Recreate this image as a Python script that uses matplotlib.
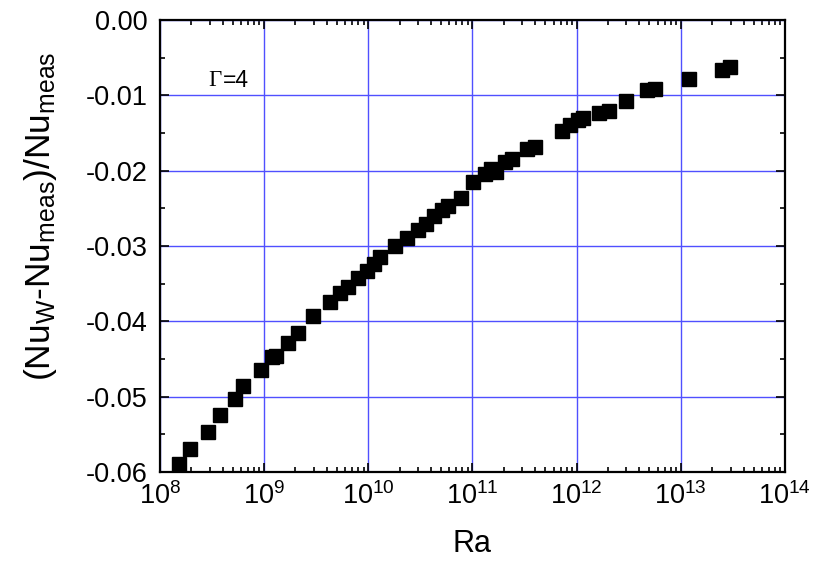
#!/usr/bin/env python3
"""
Wall correction plot
--------------------
Relative deviation of the wall-corrected Nusselt number from the measured one,
plotted against Rayleigh number for the Gamma=4 cell.
"""

import matplotlib
matplotlib.use('Agg')
import matplotlib.pyplot as plt
from matplotlib.ticker import LogLocator, MultipleLocator, NullFormatter, FormatStrFormatter

# Rayleigh numbers of the runs
ra = [
    1.53e8, 1.93e8, 2.91e8, 3.77e8, 5.21e8, 6.27e8, 9.38e8,
    1.19e9, 1.31e9, 1.69e9, 2.10e9, 2.92e9, 4.29e9, 5.31e9, 6.38e9, 7.96e9, 9.64e9,
    1.14e10, 1.29e10, 1.80e10, 2.37e10, 3.00e10, 3.58e10, 4.30e10, 5.13e10, 5.86e10, 7.80e10,
    1.02e11, 1.32e11, 1.51e11, 1.68e11, 2.05e11, 2.39e11, 3.31e11, 3.98e11, 7.18e11, 8.63e11,
    1.04e12, 1.16e12, 1.65e12, 2.04e12, 2.97e12, 4.70e12, 5.65e12,
    1.20e13, 2.47e13, 2.96e13,
]

# (Nu_W - Nu_meas) / Nu_meas for each run
rel_dev = [
    -0.0590, -0.0569, -0.0547, -0.0524, -0.0503, -0.0486, -0.0465,
    -0.0448, -0.0446, -0.0429, -0.0415, -0.0393, -0.0374, -0.0363, -0.0355, -0.0342, -0.0333,
    -0.0324, -0.0315, -0.0300, -0.0290, -0.0279, -0.0271, -0.0260, -0.0252, -0.0247, -0.0236,
    -0.02155, -0.0205, -0.0198, -0.0202, -0.0189, -0.0185, -0.0171, -0.0168, -0.0148, -0.0139,
    -0.0133, -0.0130, -0.0123, -0.0121, -0.0107, -0.0093, -0.0091,
    -0.0079, -0.0066, -0.0063,
]

x_limits = (1e8, 1e14)
y_limits = (-0.06, 0.0)

plt.rcParams['font.family'] = ['Liberation Sans', 'DejaVu Sans']
plt.rcParams['mathtext.fontset'] = 'custom'
plt.rcParams['mathtext.rm'] = 'Liberation Sans'
plt.rcParams['mathtext.it'] = 'Liberation Sans:italic'
plt.rcParams['mathtext.bf'] = 'Liberation Sans:bold'


def make_plot(output_file='out.png'):
    fig = plt.figure(figsize=(8.16, 5.71), dpi=100)
    ax = fig.add_axes([0.196, 0.1734, 0.766, 0.7916])

    ax.plot(ra, rel_dev, linestyle='none', marker='s', markersize=9.5,
            color='black', zorder=3)

    ax.set_xscale('log')
    ax.set_xlim(*x_limits)
    ax.set_ylim(*y_limits)

    # blue grid at the major ticks
    ax.grid(True, which='major', color='#5050ff', linewidth=1.0)
    ax.set_axisbelow(True)

    ax.xaxis.set_major_locator(LogLocator(base=10, numticks=10))
    ax.xaxis.set_minor_locator(LogLocator(base=10, subs=range(2, 10), numticks=20))
    ax.xaxis.set_minor_formatter(NullFormatter())
    ax.yaxis.set_major_locator(MultipleLocator(0.01))
    ax.yaxis.set_minor_locator(MultipleLocator(0.005))
    ax.yaxis.set_major_formatter(FormatStrFormatter('%.2f'))

    ax.tick_params(which='both', direction='in', top=True, right=True,
                   width=1.2, labelsize=19.5)
    ax.tick_params(axis='y', pad=9)
    ax.tick_params(axis='x', pad=7)
    ax.tick_params(which='major', length=6.5)
    ax.tick_params(which='minor', length=3.5)
    for spine in ax.spines.values():
        spine.set_linewidth(1.6)

    ax.set_xlabel('Ra', fontsize=22, labelpad=14)
    ax.set_ylabel(r'(Nu$_{\mathrm{W}}$-Nu$_{\mathrm{meas}}$)/Nu$_{\mathrm{meas}}$',
                  fontsize=25.5)
    ax.yaxis.set_label_coords(-0.162, 0.565)

    # cell aspect ratio
    ax.text(0.077, 0.867, 'Γ', transform=ax.transAxes, fontsize=16.5,
            family='Liberation Serif', ha='left', va='center')
    ax.text(0.1, 0.867, '=4', transform=ax.transAxes, fontsize=16.5,
            ha='left', va='center')

    fig.savefig(output_file, dpi=100)
    return fig


if __name__ == '__main__':
    make_plot()
